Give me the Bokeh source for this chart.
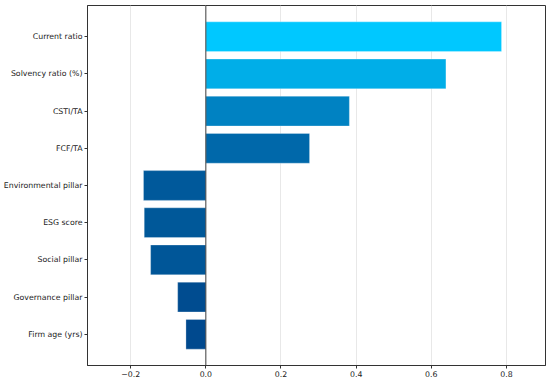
from bokeh.plotting import figure
from bokeh.models import Range1d, FixedTicker, Span, ColumnDataSource
from bokeh.embed import file_html
from bokeh.resources import INLINE

categories = ["Current ratio", "Solvency ratio (%)", "CSTI/TA", "FCF/TA",
              "Environmental pillar", "ESG score", "Social pillar",
              "Governance pillar", "Firm age (yrs)"]
values = [0.787, 0.639, 0.382, 0.276, -0.166, -0.164, -0.147, -0.075, -0.053]
colors = ["#00C8FF", "#00AEE8", "#0082C2", "#0068AA", "#00599B",
          "#005899", "#005698", "#004C90", "#00498E"]
x_ticks = [-0.2, 0.0, 0.2, 0.4, 0.6, 0.8]
x_tick_labels = ["\u22120.2", "0.0", "0.2", "0.4", "0.6", "0.8"]

n = len(categories)
ypos = [n - 1 - i for i in range(n)]
src = ColumnDataSource(dict(y=ypos, v=values, c=colors, cat=categories))

p = figure(width=550, height=382, output_backend="svg", toolbar_location=None,
           x_range=Range1d(-0.315, 0.904), y_range=Range1d(-0.84, n - 1 + 0.84),
           min_border_top=5, min_border_right=5, min_border_left=10, min_border_bottom=17)

p.hbar(y="y", left=0, right="v", height=0.8, fill_color="c", line_color="white",
       line_alpha=0.35, line_width=0.8, source=src)

p.add_layout(Span(location=0, dimension="height", line_color="#444444", line_width=1))

p.xaxis.ticker = FixedTicker(ticks=x_ticks)
p.xaxis.major_label_overrides = {t: l for t, l in zip(x_ticks, x_tick_labels)}
p.yaxis.ticker = FixedTicker(ticks=ypos)
p.yaxis.major_label_overrides = {y: c for y, c in zip(ypos, categories)}

for ax in (p.xaxis[0], p.yaxis[0]):
    ax.major_label_text_font = "DejaVu Sans"
    ax.major_label_text_font_size = "7.8px"
    ax.major_label_text_color = "#222222"
    ax.major_tick_out = 3
    ax.major_tick_in = 0
    ax.minor_tick_out = 0
    ax.minor_tick_in = 0
    ax.axis_line_color = "#333333"
    ax.major_tick_line_color = "#333333"
    ax.major_label_standoff = 2

p.xgrid.grid_line_color = "#e8e8e8"
p.xgrid.grid_line_width = 1
p.ygrid.grid_line_color = None
p.outline_line_color = "#333333"
p.outline_line_width = 1
p.background_fill_color = "white"
p.border_fill_color = "white"

open("out.html", "w").write(file_html(p, INLINE))
